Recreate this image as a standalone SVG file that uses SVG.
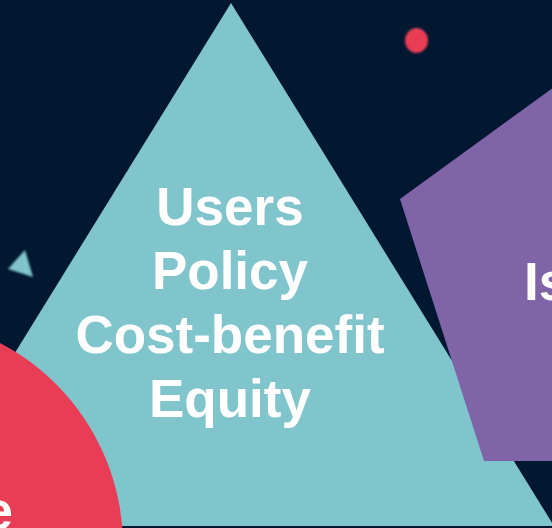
<svg xmlns="http://www.w3.org/2000/svg" width="552" height="528" viewBox="0 0 552 528">
<defs>
<style>
.lbl{font-family:"Liberation Sans",Arial,sans-serif;font-weight:bold;font-size:53px;fill:#ffffff}
</style>
<filter id="soft" x="-50%" y="-50%" width="200%" height="200%"><feGaussianBlur stdDeviation="0.9"/></filter>
</defs>
<rect width="552" height="528" fill="#011830"/>
<g id="dot">
<ellipse cx="416.5" cy="40.5" rx="11.5" ry="12.5" fill="#e83d55" filter="url(#soft)"/>
</g>
<g id="small-triangle">
<polygon points="25,250 8,269 33,277" fill="#80c4cc" filter="url(#soft)"/>
</g>
<g id="triangle">
<polygon points="231,3 554,526 -92,526" fill="#80c4cc"/>
<text class="lbl" x="230" y="225" text-anchor="middle">Users</text>
<text class="lbl" x="230" y="289" text-anchor="middle">Policy</text>
<text class="lbl" x="230" y="353" text-anchor="middle">Cost-benefit</text>
<text class="lbl" x="230" y="417" text-anchor="middle">Equity</text>
</g>
<g id="pentagon">
<polygon points="400,199 484,461 759,461 844,199.5 621.5,38" fill="#8064a8"/>
<text class="lbl" x="524" y="300">Is</text>
</g>
<g id="circle">
<circle cx="-106" cy="546" r="229" fill="#e83d55"/>
<text class="lbl" x="13" y="529" text-anchor="end">e</text>
</g>
<g id="connectors"/>
</svg>
